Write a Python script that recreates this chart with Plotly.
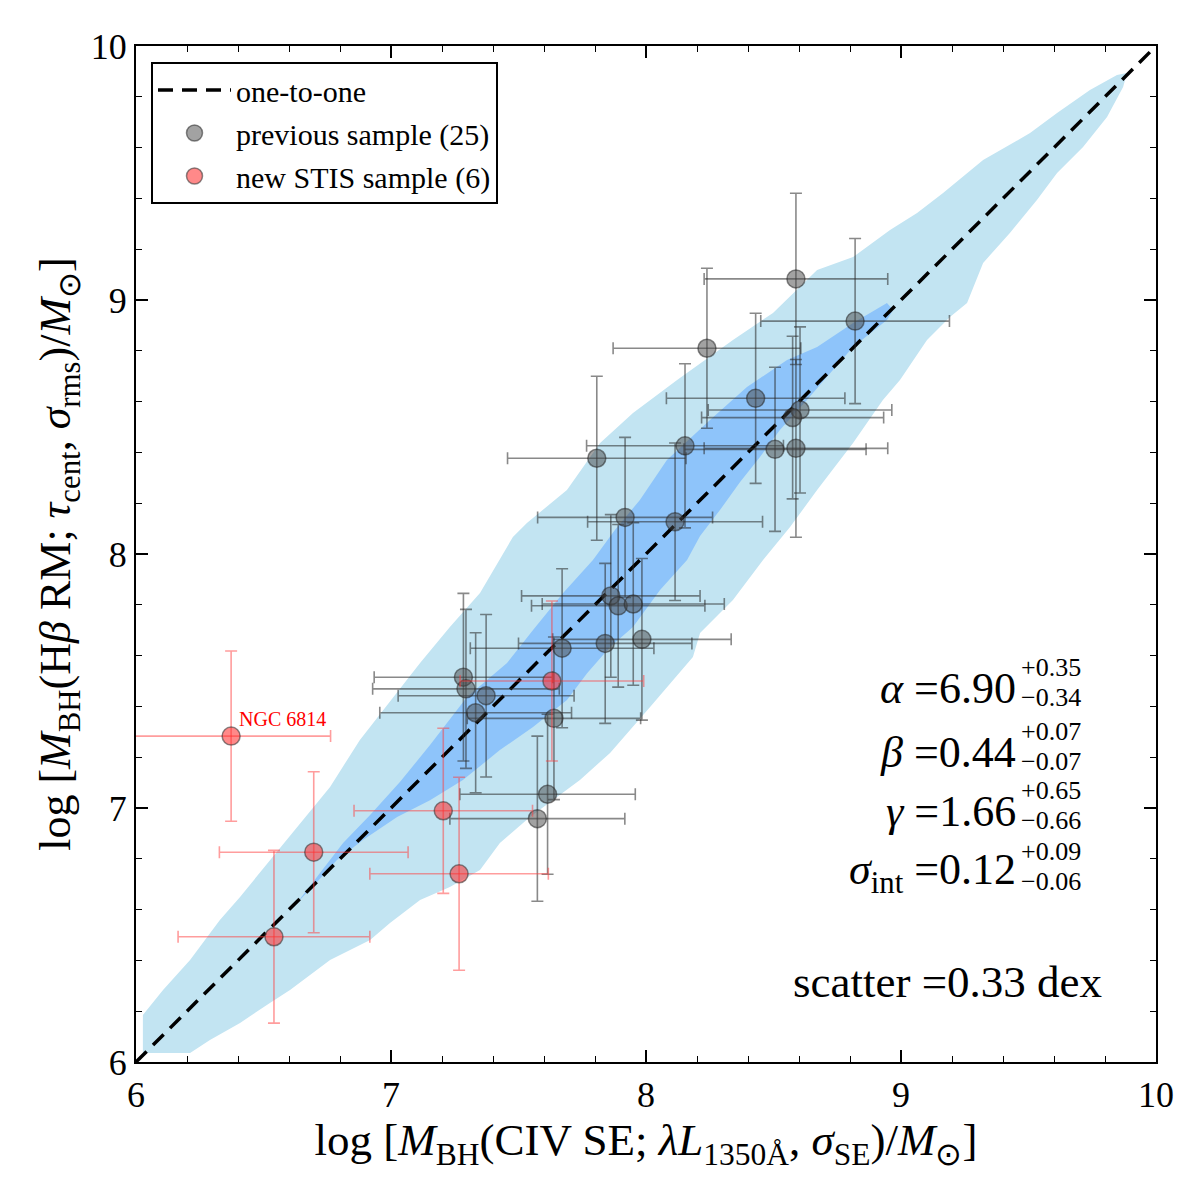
import plotly.graph_objects as go

# ---------------- data ----------------
# previous sample (25 objects): x = log M_BH(CIV SE), y = log M_BH(Hbeta RM)
prev_x = [8.588, 8.820, 8.239, 8.430, 8.604, 8.575, 8.588, 8.506, 8.153, 7.807, 7.918, 8.114,
          7.284, 7.294, 7.373, 7.332, 7.671, 7.840, 7.984, 7.862, 7.891, 7.950, 7.639, 7.614, 7.574]
prev_y = [9.083, 8.917, 8.810, 8.613, 8.567, 8.537, 8.416, 8.412, 8.426, 8.377, 8.144, 8.127,
          7.515, 7.469, 7.442, 7.375, 7.629, 7.648, 7.664, 7.835, 7.796, 7.803, 7.353, 7.054, 6.958]
prev_xerr = [0.36, 0.37, 0.368, 0.35, 0.36, 0.357, 0.36, 0.357, 0.386, 0.35, 0.343, 0.343,
             0.35, 0.366, 0.345, 0.376, 0.36, 0.34, 0.35, 0.35, 0.34, 0.357, 0.34, 0.344, 0.343]
prev_yerr = [0.337, 0.325, 0.315, 0.335, 0.327, 0.32, 0.35, 0.323, 0.323, 0.323, 0.315, 0.31,
             0.33, 0.313, 0.32, 0.315, 0.313, 0.315, 0.318, 0.32, 0.32, 0.32, 0.32, 0.315, 0.325]

# new STIS sample (6 objects)
new_x = [6.373, 6.697, 6.541, 7.205, 7.267, 7.631]
new_y = [7.283, 6.826, 6.493, 6.989, 6.741, 7.500]
new_xerr = [0.39, 0.37, 0.376, 0.35, 0.35, 0.36]
new_yerr = [0.335, 0.317, 0.34, 0.325, 0.38, 0.315]
new_names = ["NGC 6814", "", "", "", "", ""]

# one-to-one line
one_x = [6, 10]
one_y = [6, 10]

# outer (light) confidence region outline
outer_x = [6.027, 6.106, 6.212, 6.329, 6.408, 6.525, 6.631, 6.761, 6.878, 6.969, 7.114, 7.231,
           7.349, 7.478, 7.533, 7.690, 7.820, 7.949, 8.122, 8.341, 8.498, 8.671, 8.812, 8.957,
           9.063, 9.165, 9.322, 9.506, 9.612, 9.741, 9.847, 9.886, 9.871, 9.808, 9.714, 9.612,
           9.533, 9.427, 9.322, 9.259, 9.192, 9.102, 8.996, 8.929, 8.812, 8.671, 8.565, 8.459,
           8.341, 8.212, 8.184, 8.016, 7.859, 7.741, 7.545, 7.427, 7.349, 7.231, 7.114, 6.996,
           6.918, 6.761, 6.604, 6.525, 6.408, 6.290, 6.212, 6.027]
outer_y = [6.185, 6.283, 6.402, 6.559, 6.650, 6.795, 6.925, 7.083, 7.268, 7.386, 7.571, 7.713,
           7.846, 8.067, 8.122, 8.252, 8.437, 8.555, 8.685, 8.843, 8.949, 9.118, 9.169, 9.276,
           9.343, 9.421, 9.551, 9.657, 9.736, 9.827, 9.886, 9.894, 9.839, 9.720, 9.602, 9.500,
           9.394, 9.264, 9.146, 8.988, 8.933, 8.843, 8.685, 8.606, 8.437, 8.252, 8.106, 7.976,
           7.819, 7.689, 7.594, 7.398, 7.217, 7.110, 6.965, 6.862, 6.756, 6.689, 6.638, 6.547,
           6.480, 6.402, 6.283, 6.232, 6.154, 6.087, 6.035, 6.035]

# inner (dark) confidence region outline
inner_x = [6.631, 6.710, 6.812, 6.918, 7.035, 7.153, 7.298, 7.455, 7.557, 7.675, 7.792, 7.878,
           7.976, 8.082, 8.251, 8.396, 8.553, 8.671, 8.812, 8.945, 8.969, 8.945, 8.812, 8.733,
           8.631, 8.525, 8.447, 8.369, 8.290, 8.212, 8.161, 8.055, 7.949, 7.859, 7.769, 7.690,
           7.557, 7.427, 7.282, 7.153, 7.024, 6.890, 6.788, 6.710]
inner_y = [6.626, 6.728, 6.862, 6.972, 7.102, 7.248, 7.437, 7.571, 7.701, 7.846, 7.976, 8.094,
           8.213, 8.370, 8.528, 8.657, 8.764, 8.815, 8.909, 8.988, 8.961, 8.921, 8.815, 8.724,
           8.606, 8.488, 8.382, 8.283, 8.173, 8.071, 7.976, 7.858, 7.713, 7.634, 7.531, 7.425,
           7.319, 7.228, 7.110, 7.031, 6.965, 6.874, 6.795, 6.709]

tick_vals = [6, 7, 8, 9, 10]
tick_text = ["6", "7", "8", "9", "10"]

fit_rows = [
    ("<i>α</i> =6.90", "+0.35", "−0.34"),
    ("<i>β</i> =0.44", "+0.07", "−0.07"),
    ("<i>γ</i> =1.66", "+0.65", "−0.66"),
    ("<i>σ</i><sub>int</sub> =0.12", "+0.09", "−0.06"),
]
scatter_text = "scatter =0.33 dex"

# ---------------- figure ----------------
SERIF = "Liberation Serif, Times New Roman, serif"
fig = go.Figure()

fig.add_trace(go.Scatter(x=outer_x, y=outer_y, mode="lines", fill="toself",
                         fillcolor="#c2e4f2", line=dict(width=0), hoverinfo="skip",
                         showlegend=False))
fig.add_trace(go.Scatter(x=inner_x, y=inner_y, mode="lines", fill="toself",
                         fillcolor="#8ec4fa", line=dict(width=0), hoverinfo="skip",
                         showlegend=False))

fig.add_trace(go.Scatter(x=one_x, y=one_y, mode="lines", name="one-to-one",
                         legendgroup="g1",
                         line=dict(color="black", width=3.5, dash="15px,9px")))

fig.add_trace(go.Scatter(
    x=prev_x, y=prev_y, mode="markers", name="previous sample (25)", legendgroup="g2",
    marker=dict(size=18, color="rgba(70,70,70,0.5)",
                line=dict(color="rgba(40,40,40,0.55)", width=1.5)),
    error_x=dict(type="data", array=prev_xerr, color="rgba(40,40,40,0.55)",
                 thickness=1.6, width=6),
    error_y=dict(type="data", array=prev_yerr, color="rgba(40,40,40,0.55)",
                 thickness=1.6, width=6),
))

fig.add_trace(go.Scatter(
    x=new_x, y=new_y, mode="markers", name="new STIS sample (6)", legendgroup="g3",
    marker=dict(size=18, color="rgba(255,40,40,0.55)",
                line=dict(color="rgba(60,60,60,0.6)", width=1.5)),
    error_x=dict(type="data", array=new_xerr, color="rgba(255,60,60,0.5)",
                 thickness=1.6, width=6),
    error_y=dict(type="data", array=new_yerr, color="rgba(255,60,60,0.5)",
                 thickness=1.6, width=6),
))

# NGC 6814 label
fig.add_annotation(x=new_x[0], y=new_y[0], text=new_names[0], showarrow=False,
                   xanchor="left", yanchor="bottom", xshift=6, yshift=4,
                   font=dict(family=SERIF, size=20, color="red"))

# fit parameter annotations (paper coordinates)
L, R, T, B = 136, 1156, 46, 1062
def px(xp):
    return (xp - L) / (R - L)
def py(yp):
    return (B - yp) / (B - T)

main_centers = [688, 752, 811, 872]
for (main, sup, sub), yc in zip(fit_rows, main_centers):
    fig.add_annotation(xref="paper", yref="paper", x=px(1018), y=py(yc), text=main,
                       showarrow=False, xanchor="right", yanchor="middle",
                       font=dict(family=SERIF, size=44, color="black"))
    fig.add_annotation(xref="paper", yref="paper", x=px(1019), y=py(yc - 21), text=sup,
                       showarrow=False, xanchor="left", yanchor="middle",
                       font=dict(family=SERIF, size=26, color="black"))
    fig.add_annotation(xref="paper", yref="paper", x=px(1019), y=py(yc + 9), text=sub,
                       showarrow=False, xanchor="left", yanchor="middle",
                       font=dict(family=SERIF, size=26, color="black"))

fig.add_annotation(xref="paper", yref="paper", x=px(1104), y=py(982), text=scatter_text,
                   showarrow=False, xanchor="right", yanchor="middle",
                   font=dict(family=SERIF, size=45, color="black"))

axis_common = dict(
    range=[6, 10], showline=True, linecolor="black", linewidth=2, mirror="allticks",
    ticks="inside", ticklen=12, tickwidth=1.6, tickcolor="black",
    tickvals=tick_vals, ticktext=tick_text, showgrid=False, zeroline=False,
    tickfont=dict(family=SERIF, size=36, color="black"),
    minor=dict(ticks="inside", ticklen=6, tickwidth=1.2, tickcolor="black", dtick=0.2,
               showgrid=False),
)

fig.update_layout(
    width=1200, height=1200,
    margin=dict(l=136, r=44, t=46, b=138),
    paper_bgcolor="white", plot_bgcolor="white",
    font=dict(family=SERIF, color="black"),
    xaxis=dict(axis_common,
               title=dict(text="log [<i>M</i><sub>BH</sub>(CIV SE; <i>λL</i><sub>1350Å</sub>, "
                               "<i>σ</i><sub>SE</sub>)/<i>M</i><sub>⊙</sub>]",
                          font=dict(family=SERIF, size=45), standoff=8)),
    yaxis=dict(axis_common,
               title=dict(text="log [<i>M</i><sub>BH</sub>(H<i>β</i> RM; <i>τ</i><sub>cent</sub>, "
                               "<i>σ</i><sub>rms</sub>)/<i>M</i><sub>⊙</sub>]",
                          font=dict(family=SERIF, size=44), standoff=6)),
    legend=dict(x=px(151), y=py(62), xanchor="left", yanchor="top",
                bgcolor="white", bordercolor="black", borderwidth=2,
                font=dict(family=SERIF, size=30, color="black"),
                itemwidth=73, tracegroupgap=1, traceorder="grouped"),
    showlegend=True,
)

fig.write_html("out.html")
